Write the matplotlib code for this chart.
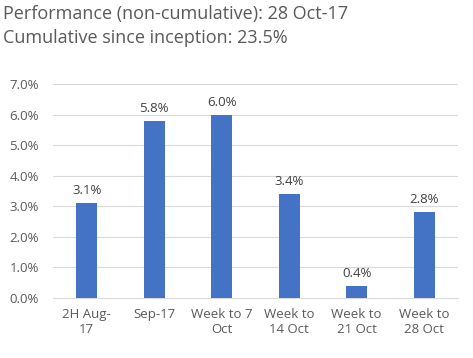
import matplotlib.pyplot as plt

categories = ['2H Aug-\n17', 'Sep-17', 'Week to 7\nOct', 'Week to\n14 Oct', 'Week to\n21 Oct', 'Week to\n28 Oct']
values = [3.1, 5.8, 6.0, 3.4, 0.4, 2.8]
yticks = [0, 1, 2, 3, 4, 5, 6, 7]

plt.rcParams['font.family'] = ['Open Sans', 'DejaVu Sans']
grey = '#595959'

fig = plt.figure(figsize=(4.73, 3.58), dpi=100)
ax = fig.add_axes([0.112, 0.168, 0.856, 0.597])

x = range(len(categories))
ax.bar(x, values, width=0.31, color='#4472C4', zorder=3)
for xi, v in zip(x, values):
    ax.text(xi, v + 0.2, f'{v:.1f}%', ha='center', va='bottom', fontsize=9.5, color='#404040')

ax.set_xlim(-0.5, len(categories) - 0.5)
ax.set_ylim(0, 7)
ax.set_yticks(yticks)
ax.set_yticklabels([f'{t:.1f}%' for t in yticks])
ax.set_xticks(list(x))
ax.set_xticklabels(categories)
ax.grid(axis='y', color='#d9d9d9', linewidth=0.8, zorder=0)
for s in ['top', 'right', 'left']:
    ax.spines[s].set_visible(False)
ax.spines['bottom'].set_color('#d9d9d9')
ax.tick_params(axis='both', length=0, colors=grey, labelsize=9.5)
ax.tick_params(axis='y', pad=10)
ax.tick_params(axis='x', pad=7)

fig.text(0.006, 0.962, 'Performance (non-cumulative): 28 Oct-17', fontsize=13, color=grey, va='center')
fig.text(0.006, 0.893, 'Cumulative since inception: 23.5%', fontsize=13, color=grey, va='center')

fig.savefig('out.png', dpi=100)
